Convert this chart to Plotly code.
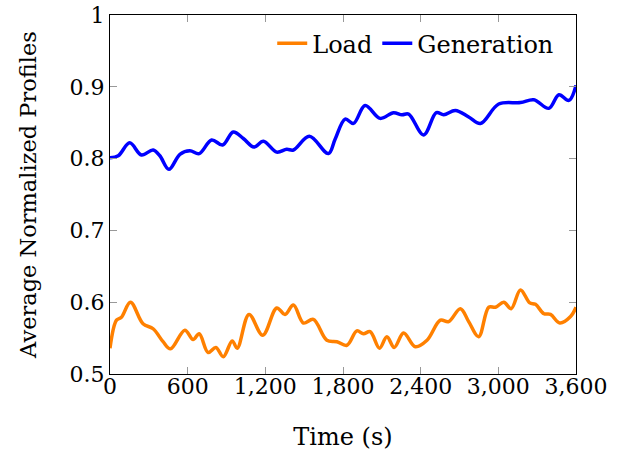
import plotly.graph_objects as go

gen_t = [0, 64, 152, 243, 333, 385, 455, 540, 617, 689, 785, 870, 952, 1030, 1112, 1185,
         1288, 1365, 1417, 1540, 1687, 1739, 1817, 1881, 1971, 2087, 2190, 2255, 2307, 2423,
         2521, 2578, 2668, 2771, 2862, 3003, 3171, 3274, 3390, 3468, 3545, 3600]
gen_v = [0.801, 0.804, 0.822, 0.805, 0.812, 0.804, 0.785, 0.806, 0.811, 0.807, 0.826, 0.819,
         0.837, 0.828, 0.816, 0.824, 0.809, 0.813, 0.812, 0.831, 0.807, 0.827, 0.855, 0.849,
         0.874, 0.856, 0.864, 0.861, 0.862, 0.833, 0.864, 0.861, 0.867, 0.858, 0.849, 0.876,
         0.878, 0.882, 0.870, 0.889, 0.881, 0.902]

load_t = [0, 50, 88, 158, 255, 333, 410, 467, 578, 642, 689, 758, 818, 875, 944, 983, 1074,
          1180, 1288, 1352, 1417, 1494, 1571, 1675, 1753, 1830, 1907, 1958, 2010, 2082, 2139,
          2196, 2268, 2358, 2449, 2552, 2616, 2707, 2771, 2848, 2926, 2978, 3042, 3099, 3171,
          3243, 3287, 3352, 3403, 3475, 3558, 3600]
load_v = [0.536, 0.575, 0.579, 0.600, 0.570, 0.563, 0.545, 0.535, 0.561, 0.548, 0.556, 0.530,
          0.537, 0.524, 0.546, 0.536, 0.583, 0.554, 0.592, 0.583, 0.596, 0.571, 0.576, 0.547,
          0.545, 0.540, 0.560, 0.556, 0.559, 0.536, 0.552, 0.537, 0.557, 0.538, 0.547, 0.575,
          0.573, 0.591, 0.573, 0.552, 0.593, 0.593, 0.600, 0.591, 0.617, 0.599, 0.597, 0.584,
          0.583, 0.571, 0.580, 0.593]

x_ticks = [0, 600, 1200, 1800, 2400, 3000, 3600]
y_ticks = [0.5, 0.6, 0.7, 0.8, 0.9, 1.0]
y_ticktext = ["0.5", "0.6", "0.7", "0.8", "0.9", "1"]

FONT = "DejaVu Serif"
FS = 22

fig = go.Figure()
fig.add_trace(go.Scatter(x=load_t, y=load_v, mode="lines", name="Load",
                         line=dict(color="#FF8000", width=3.5, shape="spline", smoothing=1.0)))
fig.add_trace(go.Scatter(x=gen_t, y=gen_v, mode="lines", name="Generation",
                         line=dict(color="#0000FF", width=3.5, shape="spline", smoothing=1.0)))

axis_common = dict(showgrid=False, zeroline=False, showline=True, linecolor="black",
                   linewidth=1.3, mirror="all", ticks="inside", ticklen=7, tickwidth=1.3,
                   tickcolor="#999999", automargin=False,
                   tickfont=dict(family=FONT, size=FS, color="black"))

fig.update_xaxes(range=[0, 3600], tickvals=x_ticks, tickformat=",d", ticklabelstandoff=-8,
                 title=dict(text="Time (s)", font=dict(family=FONT, size=24, color="black"),
                            standoff=30),
                 **axis_common)
fig.update_yaxes(range=[0.5, 1.0], tickvals=y_ticks, ticktext=y_ticktext,
                 title=dict(text="Average Normalized Profiles",
                            font=dict(family=FONT, size=22.5, color="black"), standoff=26),
                 **axis_common)

fig.update_layout(
    width=624, height=453,
    margin=dict(l=110, r=48, t=15, b=79),
    paper_bgcolor="white", plot_bgcolor="white",
    showlegend=True,
    legend=dict(orientation="h", x=0.964, xanchor="right", y=0.983, yanchor="top",
                font=dict(family=FONT, size=24, color="black"),
                bgcolor="rgba(0,0,0,0)", borderwidth=0, itemwidth=30,
                tracegroupgap=0),
)

fig.write_html("out.html")
